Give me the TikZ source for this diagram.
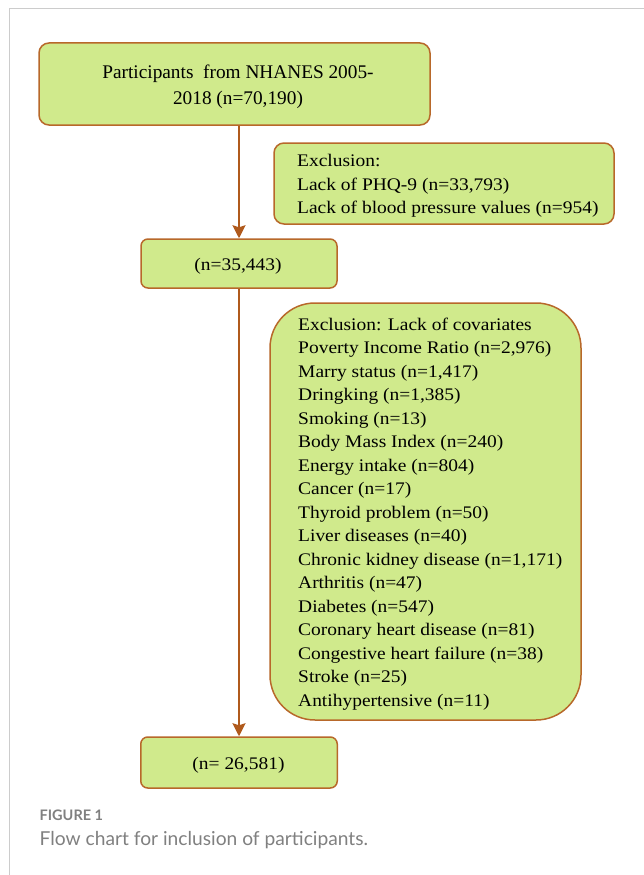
\documentclass[tikz,border=0pt]{standalone}
\usepackage{fontspec}
\setmainfont{Liberation Serif}
\newfontfamily\exfont[FakeStretch=1.1]{Liberation Serif}
\newfontfamily\capfont{Lato}
\usetikzlibrary{arrows.meta}
\definecolor{boxfill}{HTML}{D0EA8C}
\definecolor{boxline}{HTML}{B8682A}
\definecolor{arrcol}{HTML}{B05A1C}
\definecolor{framegray}{HTML}{CCCCCC}
\definecolor{capgray}{HTML}{808080}
\begin{document}
\begin{tikzpicture}[x=1pt,y=-1pt,
  box/.style={draw=boxline, fill=boxfill, line width=1.5pt, rounded corners=10pt, inner sep=0pt},
  bigbox/.style={box, rounded corners=45pt},
  txt/.style={inner sep=0pt, text=black},
  toptxt/.style={txt, anchor=base, font=\fontsize{19.3}{26}\selectfont},
  extxt/.style={txt, anchor=base west, font=\exfont\fontsize{17.7}{23.5}\selectfont},
  ntxt/.style={txt, anchor=base, font=\exfont\fontsize{17.7}{23.5}\selectfont},
  arr/.style={draw=arrcol, line width=2pt, -{Stealth[width=13pt,length=13pt,inset=2pt]}},
]
\useasboundingbox (0,0) rectangle (644,875);
\fill[white] (0,0) rectangle (644,875);
\draw[framegray, line width=1pt] (9,875) -- (9,9) -- (644,9);

% boxes
\node[box, minimum width=391pt, minimum height=82pt] (top) at (234.5,84) {};
\node[box, minimum width=340pt, minimum height=81pt] (ex1) at (444,183.5) {};
\node[box, rounded corners=7pt, minimum width=196pt, minimum height=49pt] (n1) at (239,263.5) {};
\node[bigbox, minimum width=311pt, minimum height=417pt] (ex2) at (425.5,511.5) {};
\node[box, rounded corners=7pt, minimum width=196.5pt, minimum height=51pt] (n2) at (239,762.5) {};

% arrows
\draw[arr] (n1.north |- top.south) -- (n1.north);
\draw[arr] (n2.north |- n1.south) -- (n2.north);

% texts
\node[toptxt] (topl1) at (238,78.3) {Participants\ \ from NHANES 2005-};
\node[toptxt] (topl2) at (238,104) {2018 (n=70,190)};

\node[extxt] (ex1l1) at (297,166.5) {Exclusion:};
\node[extxt] (ex1l2) at (297,190) {Lack of PHQ-9 (n=33,793)};
\node[extxt] (ex1l3) at (297,213.5) {Lack of blood pressure values (n=954)};

\node[ntxt] (n1t) at (238,270) {(n=35,443)};

\foreach \t [count=\i] in {{Exclusion: Lack of covariates},
  {Poverty Income Ratio (n=2,976)},
  {Marry status (n=1,417)},
  {Dringking (n=1,385)},
  {Smoking (n=13)},
  {Body Mass Index (n=240)},
  {Energy intake (n=804)},
  {Cancer (n=17)},
  {Thyroid problem (n=50)},
  {Liver diseases (n=40)},
  {Chronic kidney disease (n=1,171)},
  {Arthritis (n=47)},
  {Diabetes (n=547)},
  {Coronary heart disease (n=81)},
  {Congestive heart failure (n=38)},
  {Stroke (n=25)},
  {Antihypertensive (n=11)}}
  \node[extxt] (ex2l\i) at (298,{330+23.5*(\i-1)}) {\t};

\node[ntxt] (n2t) at (238.5,769) {(n= 26,581)};

% caption
\node[anchor=base west, inner sep=0pt, text=capgray, font=\capfont\bfseries\fontsize{14.5}{14.5}\selectfont] (figlabel) at (39.5,820.7) {FIGURE 1};
\node[anchor=base west, inner sep=0pt, text=capgray, font=\capfont\fontsize{19.2}{19.2}\selectfont] (figcap) at (39.5,845) {Flow chart for inclusion of participants.};
\end{tikzpicture}
\end{document}
